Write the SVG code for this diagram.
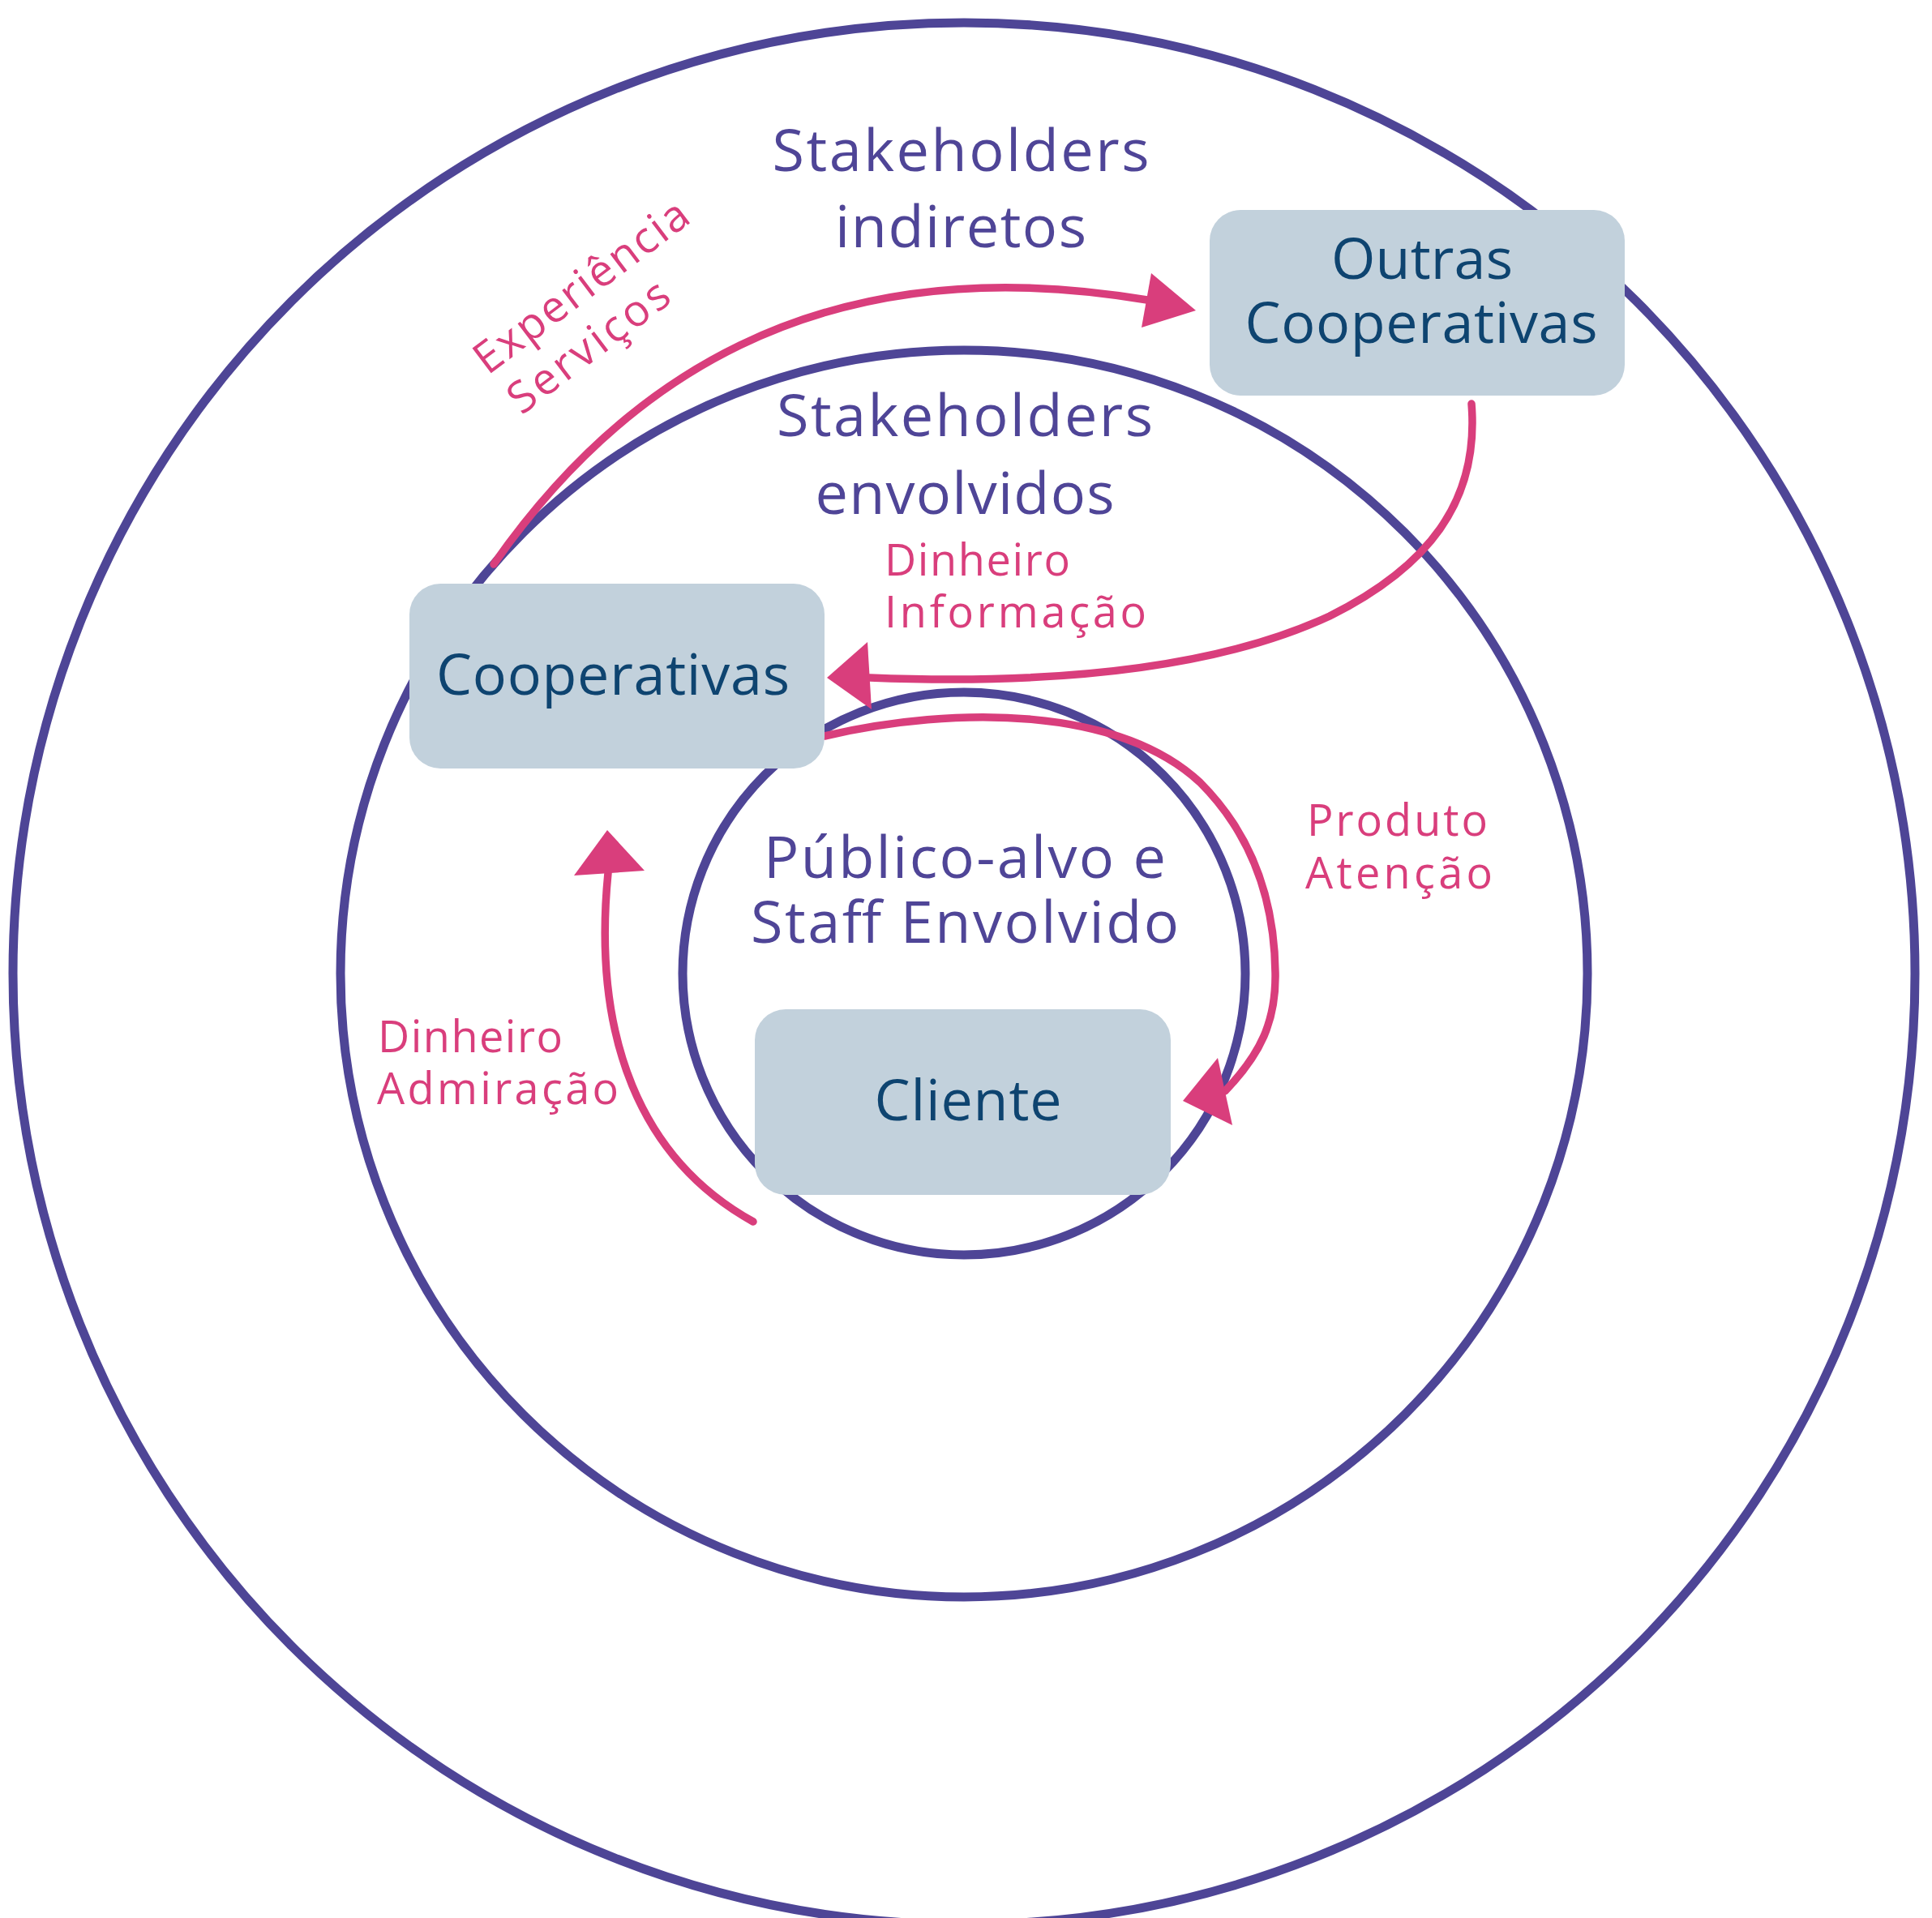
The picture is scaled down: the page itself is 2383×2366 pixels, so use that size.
<svg xmlns="http://www.w3.org/2000/svg" width="2383" height="2366" viewBox="0 0 2383 2366">
  <style>
    .ring { fill: none; stroke: #4e4596; stroke-width: 11; }
    .zone { font-family: "Open Sans", "Liberation Sans", sans-serif; font-size: 72px; fill: #4f4597; text-anchor: middle; }
    .box { fill: #c2d1dc; }
    .boxtxt { font-family: "Open Sans", "Liberation Sans", sans-serif; font-size: 70px; fill: #0e4470; text-anchor: middle; }
    .flow { fill: none; stroke: #d93e7c; stroke-width: 9.5; stroke-linecap: round; }
    .head { fill: #d93e7c; stroke: none; }
    .flowtxt { font-family: "Open Sans", "Liberation Sans", sans-serif; font-size: 54px; fill: #d93e7c; }
  </style>
  <rect width="2383" height="2366" fill="#ffffff"/>

  <!-- concentric stakeholder rings -->
  <g id="rings">
    <circle id="ring-indiretos" class="ring" cx="1189" cy="1201" r="1173"/>
    <circle id="ring-envolvidos" class="ring" cx="1189" cy="1201" r="769"/>
    <circle id="ring-publico" class="ring" cx="1189" cy="1201" r="347"/>
  </g>

  <!-- ring titles -->
  <g id="ring-labels">
    <text class="zone" x="1185" y="211" textLength="465" lengthAdjust="spacing">Stakeholders</text>
    <text class="zone" x="1185" y="305" textLength="310" lengthAdjust="spacing">indiretos</text>
    <text class="zone" x="1190" y="538" textLength="464" lengthAdjust="spacing">Stakeholders</text>
    <text class="zone" x="1190" y="634" textLength="369" lengthAdjust="spacing">envolvidos</text>
    <text class="zone" x="1190" y="1083" textLength="496" lengthAdjust="spacing">Público-alvo e</text>
    <text class="zone" x="1190" y="1163" textLength="528" lengthAdjust="spacing">Staff Envolvido</text>
  </g>

  <!-- flows between the actors -->
  <g id="connectors">
    <path id="flow-experiencia" class="flow" d="M 609 696 C 760 480, 1000 300, 1415 370"/>
    <polygon class="head" points="1420,337 1408,404 1475,383"/>

    <path id="flow-informacao" class="flow" d="M 1815 498 C 1825 620, 1760 700, 1640 760 C 1500 825, 1300 845, 1073 836"/>
    <polygon class="head" points="1070,792 1075,875 1020,836"/>

    <path id="flow-produto" class="flow" d="M 1017 908 C 1180 870, 1380 872, 1480 965 C 1545 1030, 1572 1110, 1573 1200 C 1574 1260, 1555 1300, 1511 1346"/>
    <polygon class="head" points="1502,1305 1520,1388 1459,1358"/>

    <path id="flow-admiracao" class="flow" d="M 929 1507 C 790 1430, 730 1280, 750 1077"/>
    <polygon class="head" points="708,1080 795,1074 749,1024"/>

    <g id="connector-labels">
      <g transform="rotate(-37 728 368)">
        <text class="flowtxt" x="728" y="368" text-anchor="middle" textLength="317" lengthAdjust="spacing">Experiência</text>
      </g>
      <g transform="rotate(-37 737 442)">
        <text class="flowtxt" x="737" y="442" text-anchor="middle" textLength="235" lengthAdjust="spacing">Serviços</text>
      </g>
      <text class="flowtxt" x="1091" y="710" textLength="229" lengthAdjust="spacing">Dinheiro</text>
      <text class="flowtxt" x="1091" y="774" textLength="323" lengthAdjust="spacing">Informação</text>
      <text class="flowtxt" x="1612" y="1031" textLength="223" lengthAdjust="spacing">Produto</text>
      <text class="flowtxt" x="1610" y="1096" textLength="231" lengthAdjust="spacing">Atenção</text>
      <text class="flowtxt" x="466" y="1298" textLength="228" lengthAdjust="spacing">Dinheiro</text>
      <text class="flowtxt" x="465" y="1362" textLength="298" lengthAdjust="spacing">Admiração</text>
    </g>
  </g>

  <!-- actor nodes -->
  <g id="node-outras-cooperativas">
    <rect class="box" x="1492" y="259" width="512" height="229" rx="38" ry="38"/>
    <text class="boxtxt" x="1754" y="344" textLength="224" lengthAdjust="spacing">Outras</text>
    <text class="boxtxt" x="1753" y="423" textLength="435" lengthAdjust="spacing">Cooperativas</text>
  </g>

  <g id="node-cooperativas">
    <rect class="box" x="505" y="720" width="512" height="228" rx="38" ry="38"/>
    <text class="boxtxt" x="756" y="857" textLength="436" lengthAdjust="spacing">Cooperativas</text>
  </g>

  <g id="node-cliente">
    <rect class="box" x="931" y="1245" width="513" height="229" rx="38" ry="38"/>
    <text class="boxtxt" x="1194" y="1382" textLength="231" lengthAdjust="spacing">Cliente</text>
  </g>
</svg>
